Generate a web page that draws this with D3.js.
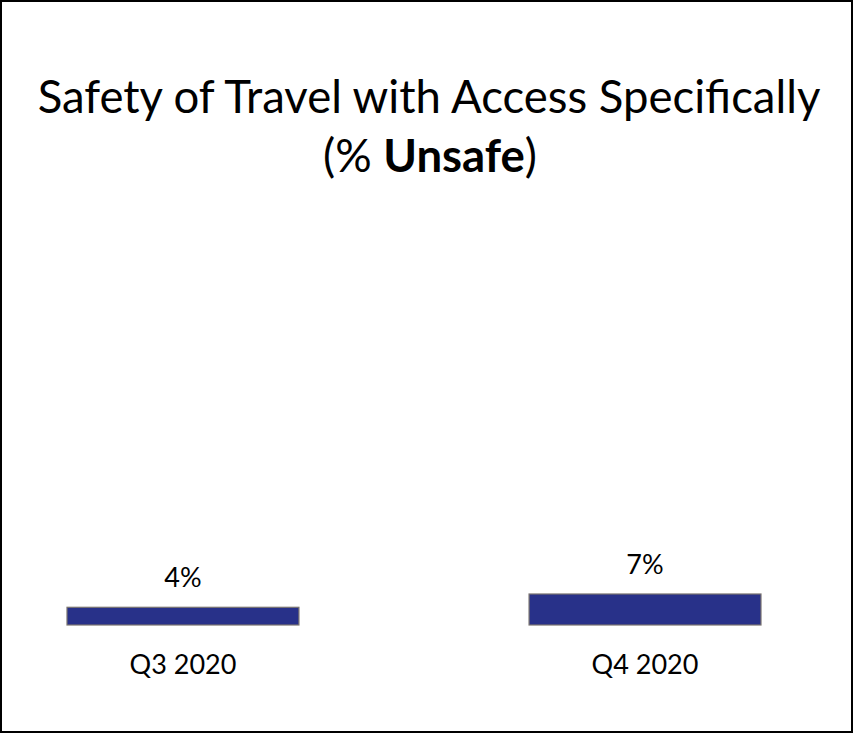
<!DOCTYPE html>
<html>
<head>
<meta charset="utf-8">
<script src="https://cdn.jsdelivr.net/npm/d3@7"></script>
<style>
  html, body { margin: 0; padding: 0; background: #fff; }
  svg { display: block; }
  text { font-family: Lato, "Open Sans", sans-serif; fill: #000; }
</style>
</head>
<body>
<svg id="chart" width="853" height="735"></svg>
<script>
// Survey quarters and share of respondents rating travel unsafe (%)
const categories = ["Q3 2020", "Q4 2020"];
const unsafeShare = [4, 7];
const valueLabels = ["4%", "7%"];
const titleLine1 = "Safety of Travel with Access Specifically";

const W = 853, H = 735;
const svg = d3.select("#chart");

// Outer frame
svg.append("rect")
  .attr("x", 1).attr("y", 1)
  .attr("width", W - 2).attr("height", H - 4)
  .attr("fill", "#fff")
  .attr("stroke", "#000")
  .attr("stroke-width", 2);

// Scales
const x = d3.scaleBand()
  .domain(categories)
  .range([67, 761])
  .paddingInner(0.498)
  .paddingOuter(0);

const y = d3.scaleLinear()
  .domain([0, 100])
  .range([625, 182]);

// Fit a text element's width to a target by scaling its font size
function fitWidth(sel, target) {
  const node = sel.node();
  const base = parseFloat(sel.attr("font-size"));
  const w = node.getComputedTextLength();
  if (w > 0) sel.attr("font-size", (base * target / w).toFixed(2));
}

// Title
const t1 = svg.append("text")
  .attr("x", 429).attr("y", 113)
  .attr("text-anchor", "middle")
  .attr("font-size", 42)
  .text(titleLine1);
fitWidth(t1, 783);

const t2 = svg.append("text")
  .attr("x", 430).attr("y", 172)
  .attr("text-anchor", "middle")
  .attr("font-size", 42);
t2.append("tspan").text("(% ");
t2.append("tspan").attr("font-weight", "bold").text("Unsafe");
t2.append("tspan").text(")");
fitWidth(t2, 214);

// Bars
const data = categories.map((c, i) => ({ cat: c, value: unsafeShare[i], label: valueLabels[i] }));

svg.append("g").selectAll("rect")
  .data(data)
  .join("rect")
  .attr("x", d => x(d.cat))
  .attr("y", d => y(d.value))
  .attr("width", x.bandwidth())
  .attr("height", d => y(0) - y(d.value))
  .attr("fill", "#283189")
  .attr("stroke", "#7a7470")
  .attr("stroke-width", 1.2);

// Value labels above bars
svg.append("g").selectAll("text")
  .data(data)
  .join("text")
  .attr("x", d => x(d.cat) + x.bandwidth() / 2)
  .attr("y", d => y(d.value) - 20)
  .attr("text-anchor", "middle")
  .attr("font-size", 27)
  .text(d => d.label);

// Category axis (labels only, no line or ticks)
const xAxis = d3.axisBottom(x).tickSize(0).tickPadding(0);
const gx = svg.append("g")
  .attr("transform", `translate(0, ${y(0)})`)
  .call(xAxis);
gx.select(".domain").remove();
gx.selectAll(".tick text")
  .attr("dy", null)
  .attr("y", 49)
  .attr("font-size", 27)
  .attr("font-family", "Lato, 'Open Sans', sans-serif")
  .attr("fill", "#000");
</script>
</body>
</html>
